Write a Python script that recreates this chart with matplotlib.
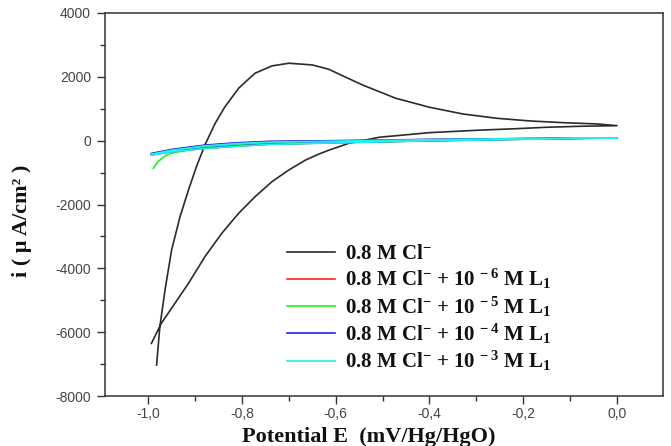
import matplotlib
matplotlib.use("Agg")
import matplotlib.pyplot as plt
from matplotlib.ticker import MultipleLocator, FuncFormatter

plt.rcParams["axes.unicode_minus"] = False
plt.rcParams["mathtext.fontset"] = "custom"
plt.rcParams["mathtext.rm"] = "Liberation Serif:bold"
plt.rcParams["mathtext.bf"] = "Liberation Serif:bold"
plt.rcParams["mathtext.it"] = "Liberation Serif:bold"
plt.rcParams["mathtext.default"] = "regular"

# black curve: 0.8 M Cl- (anodic sweep, then return sweep)
cl_fwd_x = [-0.982, -0.975, -0.964, -0.950, -0.932, -0.914, -0.897, -0.879, -0.857, -0.836,
            -0.807, -0.772, -0.736, -0.700, -0.650, -0.615, -0.543, -0.472, -0.40, -0.329,
            -0.257, -0.186, -0.115, -0.043, 0.0]
cl_fwd_y = [-7030, -5830, -4680, -3427, -2383, -1545, -815, -135, 545, 1066,
            1643, 2113, 2342, 2426, 2373, 2238, 1746, 1329, 1047, 837,
            702, 618, 564, 524, 470]
cl_rev_x = [0.0, -0.079, -0.15, -0.223, -0.293, -0.40, -0.507, -0.572, -0.615, -0.636,
            -0.664, -0.700, -0.736, -0.772, -0.807, -0.843, -0.879, -0.914, -0.943, -0.972,
            -0.993]
cl_rev_y = [470, 451, 420, 370, 330, 251, 107, -82, -300, -420,
            -605, -919, -1285, -1756, -2276, -2903, -3637, -4470, -5098, -5725,
            -6352]

# inhibitor curves (forward / return on the same potentials)
inh_x = [-0.993, -0.95, -0.88, -0.81, -0.74, -0.6, -0.5, -0.4, -0.3, -0.2, -0.1, 0.0]
red_fwd = [-410, -290, -155, -80, -35, -8, 15, 34, 50, 63, 75, 85]
red_rev = [-445, -345, -240, -170, -110, -65, -33, -3, 22, 46, 66, 85]
green_fwd_x = [-0.989, -0.979, -0.964, -0.95, -0.88, -0.81, -0.74, -0.6, -0.5, -0.4,
               -0.3, -0.2, -0.1, 0.0]
green_fwd = [-865, -658, -480, -390, -200, -110, -55, -20, 5, 28, 45, 60, 74, 86]
green_rev = [-450, -345, -240, -168, -108, -62, -32, -2, 22, 46, 68, 86]
blue_fwd = [-400, -275, -140, -65, -20, 0, 20, 38, 52, 65, 78, 90]
blue_rev = [-440, -340, -235, -165, -105, -60, -30, 0, 25, 48, 70, 90]
cyan_fwd = [-420, -300, -165, -90, -45, -15, 10, 30, 48, 62, 76, 88]
cyan_rev = [-455, -350, -245, -175, -115, -70, -35, -5, 20, 45, 68, 88]

labels = [r"0.8 M Cl$^{-}$",
          r"0.8 M Cl$^{-}$ + 10 $^{-\,6}$ M L$_{1}$",
          r"0.8 M Cl$^{-}$ + 10 $^{-\,5}$ M L$_{1}$",
          r"0.8 M Cl$^{-}$ + 10 $^{-\,4}$ M L$_{1}$",
          r"0.8 M Cl$^{-}$ + 10 $^{-\,3}$ M L$_{1}$"]

fig = plt.figure(figsize=(6.71, 4.46), dpi=100)
ax = fig.add_axes([105 / 671, 1 - 396 / 446, 558 / 671, 383 / 446])

lw = 1.2
ax.plot(cl_fwd_x + cl_rev_x, cl_fwd_y + cl_rev_y, color="#2b2b2b", lw=lw, label=labels[0])
ax.plot(inh_x + inh_x[::-1], red_fwd + red_rev[::-1], color="#ff2020", lw=lw, label=labels[1])
ax.plot(green_fwd_x + inh_x[::-1], green_fwd + green_rev[::-1], color="#22ee22", lw=lw, label=labels[2])
ax.plot(inh_x + inh_x[::-1], blue_fwd + blue_rev[::-1], color="#2222ee", lw=lw, label=labels[3])
ax.plot(inh_x + inh_x[::-1], cyan_fwd + cyan_rev[::-1], color="#22eeee", lw=lw, label=labels[4])

ax.set_xlim(-1.092, 0.098)
ax.set_ylim(-8000, 4000)
ax.xaxis.set_major_locator(MultipleLocator(0.2))
ax.xaxis.set_minor_locator(MultipleLocator(0.1))
ax.yaxis.set_major_locator(MultipleLocator(2000))
ax.yaxis.set_minor_locator(MultipleLocator(1000))
ax.xaxis.set_major_formatter(FuncFormatter(lambda v, p: f"{v:.1f}".replace(".", ",").replace("-0,0", "0,0")))
ax.yaxis.set_major_formatter(FuncFormatter(lambda v, p: f"{v:.0f}"))

for s in ax.spines.values():
    s.set_linewidth(1.1)
    s.set_color("#333333")
ax.tick_params(which="both", direction="out", color="#333333", width=1.0,
               labelsize=10, labelcolor="#444444")
ax.tick_params(which="major", length=6)
ax.tick_params(which="minor", length=3.5)
ax.tick_params(axis="x", pad=2)
ax.tick_params(axis="y", pad=4)
for t in ax.get_xticklabels() + ax.get_yticklabels():
    t.set_family(["Liberation Sans", "DejaVu Sans"])

ax.set_xlabel("Potential E  (mV/Hg/HgO)", family=["Liberation Serif", "DejaVu Serif"],
              fontsize=16, fontweight="bold", color="#111111")
ax.xaxis.set_label_coords(0.473, -0.08)
ax.set_ylabel("i ( \u03bc A/cm\u00b2 )", family=["Liberation Serif", "DejaVu Serif"],
              fontsize=16, fontweight="bold", color="#111111")
ax.yaxis.set_label_coords(-0.13, 0.457)

ax.legend(loc="upper left", bbox_to_anchor=(287 / 671, 1 - 244 / 446),
          bbox_transform=fig.transFigure, frameon=False, borderpad=0, borderaxespad=0,
          handlelength=2.3, handletextpad=0.5, labelspacing=0.15,
          prop={"family": ["Liberation Serif", "DejaVu Serif"], "weight": "bold", "size": 15},
          labelcolor="#111111")

fig.savefig("out.png", dpi=100)
